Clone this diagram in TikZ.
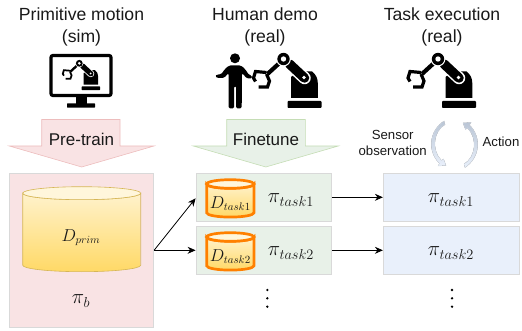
\documentclass[tikz,border=0pt]{standalone}
\usepackage{fontspec}
\setsansfont{Liberation Sans}
\usetikzlibrary{arrows.meta}
\definecolor{pinkfill}{HTML}{F9E3E4}
\definecolor{pinkline}{HTML}{EDBDBD}
\definecolor{greenfill}{HTML}{E8F1E8}
\definecolor{greenline}{HTML}{C5DDB5}
\definecolor{bluefill}{HTML}{E9F0FB}
\definecolor{panelline}{HTML}{D9D9D9}
\definecolor{cyltop}{HTML}{FFF2CC}
\definecolor{cylbot}{HTML}{FFD966}
\definecolor{cylline}{HTML}{D6B656}
\definecolor{orangeline}{HTML}{FF8000}
\definecolor{cyclegrey}{HTML}{BAC6D6}
\tikzset{
  x=1pt,y=1pt,
  panel/.style={draw=panelline,line width=.8pt,anchor=center,inner sep=0pt},
  title/.style={font=\sffamily\fontsize{17.6}{22}\selectfont,align=center,text=black!90,inner sep=0pt},
  small/.style={font=\sffamily\fontsize{13.2}{16}\selectfont,align=center,text=black!90,inner sep=0pt},
  mathlabel/.style={inner sep=0pt,text=black!90},
  pilabel/.style={mathlabel,font=\fontsize{20}{24}\selectfont},
  dlabel/.style={mathlabel,font=\fontsize{16}{18}\selectfont},
  link/.style={-{Stealth[length=8pt,width=7pt]},line width=.8pt},
  vdot/.style={circle,fill=black,inner sep=0pt,minimum size=2.6pt},
}
\newcommand\robotarm[3]{%
\begin{scope}[shift={(#1,-#2)},scale=#3]
  \fill[black] (7.7,-39)--(34.3,-39)--(34.3,-24) .. controls (34.3,-19) and (32,-15) .. (28.5,-12.5)--(14,-12)--(7.7,-18)--cycle;
  \fill[black,rounded corners=.8] (4,-42) rectangle (38,-49);
  \draw[white,line width={#3*12.5pt},line cap=round] (6,-5)--(21,-19);
  \draw[black,line width={#3*9.5pt},line cap=round] (6,-5)--(21,-19);
  \fill[white] (20.5,-18.5) circle (1.9);
  \draw[black,line width={#3*4.2pt}] (-4,-4)--(-16,-15);
  \draw[black,line width={#3*3.2pt},line join=miter] (-17,-13.5)--(-28,-12.5)--(-30,-19)--(-28,-22.5);
  \draw[black,line width={#3*3.2pt},line join=miter] (-17,-15)--(-14,-22)--(-16,-28)--(-25,-28);
  \fill[white] (0,0) circle (7.4);
  \fill[black] (0,0) circle (6.2);
  \fill[white] (0,0) circle (2.7);
\end{scope}}
\newcommand\crescent{%
  \fill[top color=cyclegrey,bottom color=bluefill,draw=bluefill!85!gray,line width=.4pt]
    (444,-121) -- (445,-124.5) .. controls (433.5,-131) and (431,-150) .. (441.5,-160.5)
    -- (443.5,-159) -- (446,-165.5) -- (438,-166) -- (439.5,-163.5)
    .. controls (427,-151) and (429,-131) .. (444,-121) -- cycle;}
\begin{document}
\begin{tikzpicture}
\useasboundingbox (0,0) rectangle (522,-331);
% titles
\node[title] (t1) at (81.5,-26.5) {Primitive motion\\(sim)};
\node[title] (t2) at (265,-26.5) {Human demo\\(real)};
\node[title] (t3) at (442,-26.5) {Task execution\\(real)};
% monitor
\draw[black,line width=3.2pt,rounded corners=2pt] (51,-55.5) rectangle (111,-95.5);
\fill[black] (75.7,-97) rectangle (86.7,-104);
\fill[black,rounded corners=.6pt] (67,-103.3) rectangle (95,-107.7);
\robotarm{79.3}{63.3}{.55}
% human
\fill[black] (235,-58.3) circle (5);
\fill[black,rounded corners=1.5pt]
  (229,-65.5)--(241,-65.5)--(245,-69)--(249,-75)--(252,-75.5)--(252,-78.5)--(247,-78.5)--(242,-73)
  --(241.7,-108.5)--(236.2,-108.5)--(236.2,-86)--(234.2,-86)--(234.2,-108.5)--(228.7,-108.5)
  --(228.5,-73)--(224,-78)--(217,-78)--(215,-76)--(217,-74.5)--(221,-74.5)--(225,-69)--cycle;
\robotarm{283.5}{59}{1}
\robotarm{438}{59}{1}
% block arrows
\draw[fill=pinkfill,draw=pinkline,line width=.6pt] (41.7,-119.5)--(120,-119.5)--(120,-146)--(154,-146)--(81.7,-167)--(9.3,-146)--(41.7,-146)--cycle;
\draw[fill=greenfill,draw=greenline,line width=.6pt] (226.7,-119.5)--(305.3,-119.5)--(305.3,-146)--(338.3,-146)--(265.8,-167)--(193.3,-146)--(226.7,-146)--cycle;
\node[font=\sffamily\fontsize{17}{20}\selectfont,text=black!90,inner sep=0pt] (pretrain) at (81.5,-139) {Pre-train};
\node[font=\sffamily\fontsize{17}{20}\selectfont,text=black!90,inner sep=0pt] (finetune) at (266,-139) {Finetune};
% cycle
\crescent
\begin{scope}[rotate around={180:(454.5,-144.25)}]\crescent\end{scope}
\node[small] (sensor) at (392.7,-143) {Sensor\\observation};
\node[small] (action) at (501,-142) {Action};
% panels
\node[panel,fill=pinkfill,minimum width=144.4pt,minimum height=154pt] (pink) at (81.5,-250.3) {};
\node[panel,fill=greenfill,minimum width=135.7pt,minimum height=48pt] (g1) at (263.85,-197.3) {};
\node[panel,fill=greenfill,minimum width=135.7pt,minimum height=48pt] (g2) at (263.85,-250.3) {};
\node[panel,fill=bluefill,minimum width=135.7pt,minimum height=48pt] (b1) at (451.15,-197.3) {};
\node[panel,fill=bluefill,minimum width=135.7pt,minimum height=48pt] (b2) at (451.15,-250.3) {};
% big cylinder
\path[top color=cyltop,bottom color=cylbot,draw=cylline,line width=.6pt]
  (22.7,-193.2) arc[start angle=180,end angle=360,x radius=59,y radius=6.5]
  -- (140.7,-265.2) arc[start angle=0,end angle=-180,x radius=59,y radius=6.5] -- cycle;
\draw[fill=cyltop!70!white,draw=cylline,line width=.6pt] (81.7,-193.2) ellipse[x radius=59,y radius=6.5];
\node[dlabel] (dprim) at (81,-237.5) {$D_{prim}$};
\node[pilabel] (pib) at (81,-301) {$\pi_b$};
% small cylinders
\foreach \yt/\nm/\lab in {-184/c1/1,-237/c2/2}{
  \path[top color=cyltop,bottom color=cylbot,draw=orangeline,line width=2.7pt]
    (206.7,\yt) arc[start angle=180,end angle=360,x radius=23.6,y radius=4.3]
    -- (253.9,\yt-28.8) arc[start angle=0,end angle=-180,x radius=23.6,y radius=4.3] -- cycle;
  \draw[fill=cyltop!70!white,draw=orangeline,line width=2.7pt] (230.3,\yt) ellipse[x radius=23.6,y radius=4.3];
  \node[dlabel] (\nm) at (230.3,\yt-19.5) {$D_{task\lab}$};
}
\node[pilabel] (p1) at (291,-200) {$\pi_{task1}$};
\node[pilabel] (p2) at (291,-253) {$\pi_{task2}$};
\node[pilabel] (q1) at (451,-200) {$\pi_{task1}$};
\node[pilabel] (q2) at (451,-253) {$\pi_{task2}$};
% connectors
\draw[link] (pink.east) -- ([yshift=-1pt]g1.west);
\draw[link] (pink.east) -- (g2.west);
\draw[link] (g1.east) -- (b1.west);
\draw[link] (g2.east) -- (b2.west);
% dots
\foreach \x/\n in {267.3/a,452/b}{
  \node[vdot] (\n1) at (\x,-290) {};
  \node[vdot] (\n2) at (\x,-298.3) {};
  \node[vdot] (\n3) at (\x,-306.7) {};
}
\end{tikzpicture}
\end{document}
